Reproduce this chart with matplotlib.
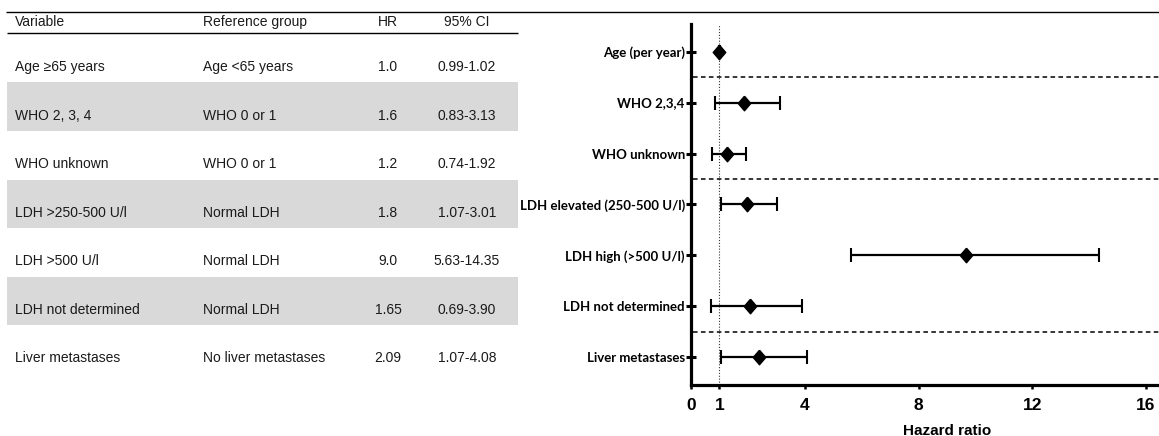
"""Cox model summary: results table (left) next to a forest plot of hazard ratios (right)."""
import matplotlib
matplotlib.use("Agg")
import matplotlib.pyplot as plt
from matplotlib.path import Path

# table (left panel)
tbl_header = ["Variable", "Reference group", "HR", "95% CI"]
tbl_variable = ["Age \u226565 years", "WHO 2, 3, 4", "WHO unknown", "LDH >250-500 U/l",
                "LDH >500 U/l", "LDH not determined", "Liver metastases"]
tbl_reference = ["Age <65 years", "WHO 0 or 1", "WHO 0 or 1", "Normal LDH",
                 "Normal LDH", "Normal LDH", "No liver metastases"]
tbl_hr = ["1.0", "1.6", "1.2", "1.8", "9.0", "1.65", "2.09"]
tbl_ci = ["0.99-1.02", "0.83-3.13", "0.74-1.92", "1.07-3.01", "5.63-14.35", "0.69-3.90", "1.07-4.08"]

# forest plot (right panel), top to bottom
fp_labels = ["Age (per year)", "WHO 2,3,4", "WHO unknown", "LDH elevated (250-500 U/l)",
             "LDH high (>500 U/l)", "LDH not determined", "Liver metastases"]
fp_hr = [1.0, 1.85, 1.28, 1.96, 9.66, 2.07, 2.40]
fp_lo = [0.99, 0.83, 0.74, 1.07, 5.63, 0.69, 1.07]
fp_hi = [1.02, 3.13, 1.92, 3.01, 14.35, 3.90, 4.08]
fp_group_starts = [1, 3, 6]          # dashed separator above these rows (0-based, from top)
fp_xticks = [0, 1, 4, 8, 12, 16]

_C_BAND = "#d9d9d9"
_C_TEXT = "#1a1a1a"
W, H = 1159, 436

fig = plt.figure(figsize=(W / 100, H / 100), dpi=100)

# --- table, laid out in pixel coordinates ---
tab = fig.add_axes([0, 0, 1, 1])
tab.set_xlim(0, W)
tab.set_ylim(H, 0)
tab.axis("off")

row_h, row0 = 48.5, 34
n = len(tbl_variable)
band_rows = [i for i in range(n) if i % 2 == 1]
tab.barh([row0 + row_h * (i + 0.5) for i in band_rows], 511, left=7, height=row_h,
         color=_C_BAND, linewidth=0)
tab.hlines(11.7, 6, W, color="black", lw=1.0)
tab.hlines(33, 7, 518, color="black", lw=1.0)

tfont = dict(family="Liberation Sans", fontsize=10, color=_C_TEXT, va="baseline")
col_x = [15, 203, 388, 467]
col_ha = ["left", "left", "center", "center"]
for x, ha, txt in zip(col_x, col_ha, tbl_header):
    tab.text(x, 26, txt, ha=ha, **tfont)
for i, cells in enumerate(zip(tbl_variable, tbl_reference, tbl_hr, tbl_ci)):
    base = 71 + row_h * i
    for x, ha, txt in zip(col_x, col_ha, cells):
        tab.text(x, base, txt, ha=ha, **tfont)

# --- forest plot ---
px = 28.44                       # pixels per HR unit
x_max = 18
ax = fig.add_axes([691 / W, (H - 385) / H, px * x_max / W, (385 - 24) / H])
ax.set_facecolor("none")
ys = list(range(len(fp_labels), 0, -1))
ax.set_xlim(0, x_max)
ax.set_ylim(0.46, len(fp_labels) + 0.54)

ax.axvline(1, color="#333333", lw=0.8, ls=(0, (1, 1.6)), zorder=1)
for b in fp_group_starts:
    ax.axhline(ys[b] + 0.5, xmin=0.004, color="black", lw=1.1, ls=(0, (3, 2.2)), zorder=1)

xerr = [[h - l for h, l in zip(fp_hr, fp_lo)], [u - h for h, u in zip(fp_hr, fp_hi)]]
ax.errorbar(fp_hr, ys, xerr=xerr, fmt="none", ecolor="black", elinewidth=1.6,
            capsize=5.3, capthick=1.5, zorder=2)
diamond = Path([(0, 1), (0.86, 0), (0, -1), (-0.86, 0), (0, 1)])
ax.plot(fp_hr, ys, ls="none", marker=diamond, markersize=10.5, color="black", zorder=3)

for side in ("top", "right"):
    ax.spines[side].set_visible(False)
for side in ("left", "bottom"):
    ax.spines[side].set_linewidth(2.3)

ax.set_yticks(ys)
ax.set_yticklabels(fp_labels, family="Lato", fontweight="bold", fontsize=9.5)
ax.tick_params(axis="y", direction="inout", length=7, width=2.2, pad=1)
ax.set_xticks(fp_xticks)
ax.set_xticklabels([str(t) for t in fp_xticks], family="Liberation Sans",
                   fontweight="bold", fontsize=12.5)
ax.tick_params(axis="x", direction="out", length=3, width=1.8, pad=6)
ax.set_xlabel("Hazard ratio", family="Liberation Sans", fontweight="bold", fontsize=11,
              labelpad=8)

fig.savefig("out.png", dpi=100)
